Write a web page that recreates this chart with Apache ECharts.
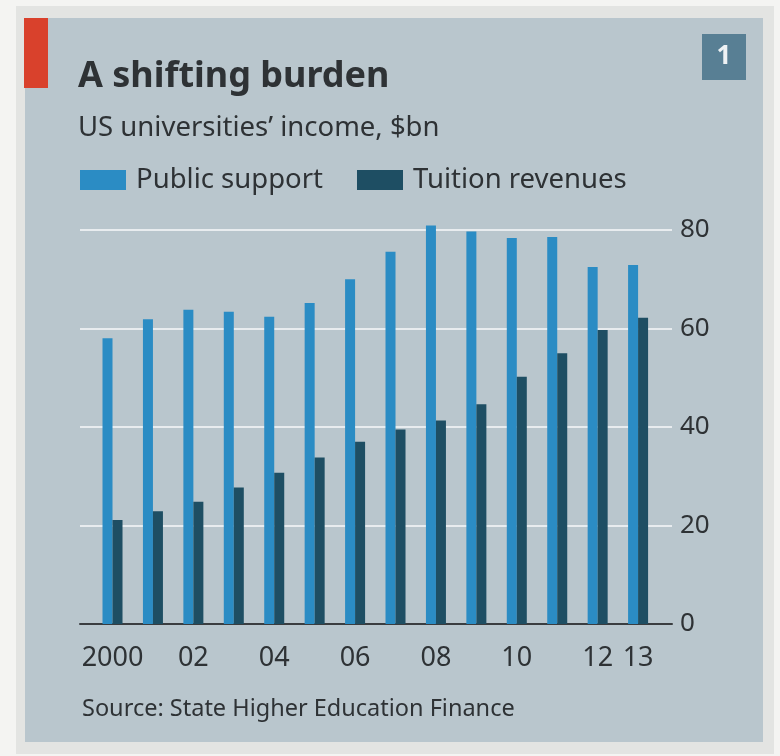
<!DOCTYPE html>
<html>
<head>
<meta charset="utf-8">
<style>
html,body{margin:0;padding:0;background:#f4f4f2;}
#c{width:780px;height:756px;}
</style>
<script src="https://cdn.jsdelivr.net/npm/echarts@6/dist/echarts.min.js"></script>
</head>
<body>
<div id="c"></div>
<script>
const years = [2000,2001,2002,2003,2004,2005,2006,2007,2008,2009,2010,2011,2012,2013];
const publicSupport = [58.0,61.9,63.8,63.4,62.4,65.2,70.0,75.6,80.9,79.7,78.4,78.6,72.5,72.9];
const tuitionRevenues = [21.1,22.9,24.8,27.7,30.7,33.8,37.0,39.5,41.3,44.6,50.2,55.0,59.7,62.2];
const yTicks = [0,20,40,60,80];
const seriesNames = ['Public support','Tuition revenues'];

const FONT = 'Noto Sans';
const TXT = '#2e3235';
const C_PUB = '#2b8cc4';
const C_TUI = '#1e4e63';
const PANEL = '#b9c6cd';

function xLabel(v){
  const y = +v;
  if (y === 2000) return '2000';
  if (y === 2013) return '13';
  if (y % 2 === 0) return String(y).slice(2);
  return '';
}

const chart = echarts.init(document.getElementById('c'));
chart.setOption({
  backgroundColor: '#f4f4f2',
  animation: false,
  graphic: [
    {type:'rect', shape:{x:16,y:6,width:758,height:748}, style:{fill:'#e3e4e2'}, z:-10},
    {type:'rect', shape:{x:25,y:18,width:738,height:724}, style:{fill:PANEL}, z:-9},
    {type:'rect', shape:{x:24,y:18,width:24,height:70}, style:{fill:'#d9412c'}, z:-8},
    {type:'rect', shape:{x:702,y:34,width:44,height:46}, style:{fill:'#587f94'}, z:-8},
    {type:'text', x:724, y:57, style:{text:'1', fill:'#eef2f4', font:'bold 26px "Noto Sans"', align:'center', verticalAlign:'middle'}},
    {type:'text', x:78, y:77, style:{text:'A shifting burden', fill:TXT, font:'bold 36px "Noto Sans"', verticalAlign:'middle'}},
    {type:'text', x:78, y:128, style:{text:'US universities\u2019 income, $bn', fill:TXT, font:'27.5px "Noto Sans"', verticalAlign:'middle'}},
    {type:'text', x:82, y:709, style:{text:'Source: State Higher Education Finance', fill:TXT, font:'23.5px "Noto Sans"', verticalAlign:'middle'}}
  ],
  legend: {
    left: 80, top: 166, padding: 0,
    icon: 'rect', itemWidth: 46, itemHeight: 20, itemGap: 34,
    textStyle: {fontFamily: FONT, fontSize: 27.5, color: TXT, padding: [0,0,0,5]},
    data: seriesNames
  },
  grid: [
    {left: 80, right: 108, top: 230, bottom: 132},
    {left: 92.3, width: 566, top: 230, bottom: 132}
  ],
  xAxis: [
    {gridIndex:0, type:'category', data:[''], axisLine:{show:true, lineStyle:{color:'#3a3d40', width:2}}, axisTick:{show:false}, axisLabel:{show:false}},
    {gridIndex:1, type:'category', data: years.map(String), axisLine:{show:false}, axisTick:{show:false},
     axisLabel:{interval:0, formatter:xLabel, fontFamily:FONT, fontSize:27, color:TXT, margin:21}}
  ],
  yAxis: [
    {gridIndex:0, type:'value', position:'right', min:yTicks[0], max:yTicks[yTicks.length-1], interval:20,
     axisLine:{show:false}, axisTick:{show:false},
     axisLabel:{fontFamily:FONT, fontSize:26, color:TXT, margin:8},
     splitLine:{lineStyle:{color:'#e8ecef', width:2}}},
    {gridIndex:1, type:'value', min:yTicks[0], max:yTicks[yTicks.length-1], show:false}
  ],
  series: [
    {name:seriesNames[0], type:'bar', xAxisIndex:1, yAxisIndex:1, data:publicSupport, barWidth:10, barGap:'0%', clip:false, itemStyle:{color:C_PUB}},
    {name:seriesNames[1], type:'bar', xAxisIndex:1, yAxisIndex:1, data:tuitionRevenues, barWidth:10, barGap:'0%', clip:false, itemStyle:{color:C_TUI}}
  ]
});
</script>
</body>
</html>
